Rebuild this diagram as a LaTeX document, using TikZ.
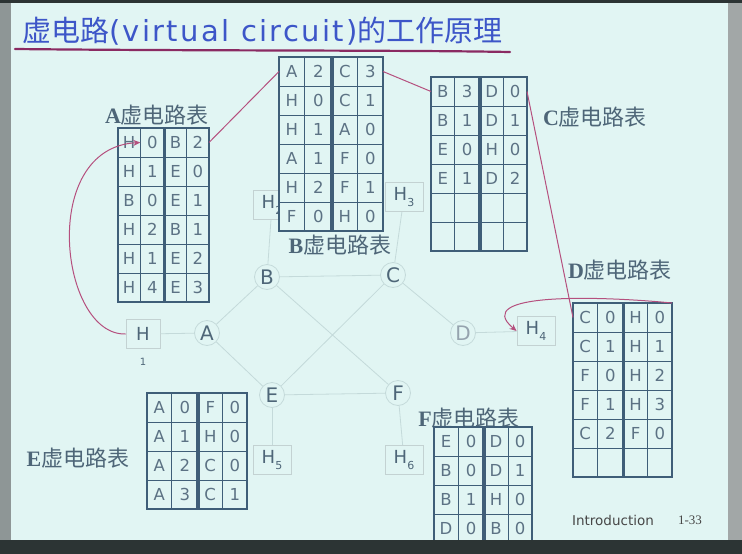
\documentclass[tikz,border=0pt]{standalone}
\usepackage{fontspec}
\setmainfont{DejaVu Sans}
\newfontfamily\cjk{Noto Sans CJK SC}
\newfontfamily\lserif{Liberation Serif}
\newfontfamily\titlelatin[LetterSpace=8]{DejaVu Sans}
\usetikzlibrary{arrows.meta}
\definecolor{bg}{HTML}{E1F5F3}
\definecolor{tabline}{HTML}{3F5E78}
\definecolor{celltext}{HTML}{5C7284}
\definecolor{titleblue}{HTML}{3D56C8}
\definecolor{vcred}{HTML}{B5507E}
\definecolor{linkc}{HTML}{C4DADA}
\definecolor{labelc}{HTML}{4E6678}
\definecolor{hostc}{HTML}{C3D2D2}
\definecolor{ulinec}{HTML}{8A2A62}
\definecolor{frameleft}{HTML}{8E9696}
\definecolor{frameright}{HTML}{A2A7A7}
\definecolor{framedark}{HTML}{2C3434}
\tikzset{
  tabbox/.style={draw=none,fill=bg,inner sep=0pt,outer sep=0pt},
  tabframe/.style={draw=tabline,line width=1.6pt},
  tabthin/.style={draw=tabline,line width=0.9pt},
  tabthick/.style={draw=tabline,line width=3.6pt},
  cell/.style={inner sep=0pt,outer sep=0pt,minimum height=29pt,text=celltext,font=\fontsize{16.5}{16.5}\selectfont},
  router/.style={circle,draw=linkc,line width=0.8pt,fill=bg,minimum size=25pt,inner sep=0pt,text=labelc,font=\fontsize{20}{20}\selectfont},
  host/.style={draw=hostc,line width=0.8pt,fill=bg,minimum width=38pt,minimum height=29pt,inner sep=0pt,text=labelc,font=\fontsize{18}{18}\selectfont},
  link/.style={draw=linkc,line width=0.8pt},
  tlabel/.style={text=labelc,inner sep=0pt,font=\fontsize{22}{22}\selectfont},
  vc/.style={draw=vcred,line width=1pt},
  vcarrow/.style={vc,-{Stealth[length=7pt,width=6pt]}},
}
\newcommand{\vctab}[6]{%
  \begin{scope}[shift={(#2,#3)}]
    \pgfmathsetmacro\W{#4}
    \pgfmathsetmacro\Hh{#5*29}
    \pgfmathsetmacro\cwa{.245*\W}
    \pgfmathsetmacro\cwb{.265*\W}
    \pgfmathtruncatemacro\Nm{#5-1}
    \node[tabbox,minimum width=\W pt,minimum height=\Hh pt] (#1) at ({\W/2},{\Hh/2}) {};
    \foreach \k in {1,...,\Nm} \draw[tabthin] (0,{\k*29}) -- (\W,{\k*29});
    \draw[tabthin] ({.245*\W},0) -- ({.245*\W},\Hh);
    \draw[tabthin] ({.755*\W},0) -- ({.755*\W},\Hh);
    \draw[tabthick] ({.51*\W},0) -- ({.51*\W},\Hh);
    \foreach \a/\b/\c/\d [count=\i] in {#6} {
      \node[cell,minimum width=\cwa pt] (#1-\i-1) at ({.1225*\W},{(\i-.5)*29}) {\a};
      \node[cell,minimum width=\cwb pt] (#1-\i-2) at ({.3775*\W},{(\i-.5)*29}) {\b};
      \node[cell,minimum width=\cwa pt] (#1-\i-3) at ({.6325*\W},{(\i-.5)*29}) {\c};
      \node[cell,minimum width=\cwa pt] (#1-\i-4) at ({.8775*\W},{(\i-.5)*29}) {\d};
    }
    \draw[tabframe] (0,0) rectangle (\W,\Hh);
  \end{scope}}
\begin{document}
\begin{tikzpicture}[x=1pt,y=-1pt]
\useasboundingbox (0,0) rectangle (742,554);
\fill[bg] (0,0) rectangle (742,554);
% title
\node[anchor=west,text=titleblue,inner sep=0pt,font=\fontsize{29}{29}\selectfont] (title) at (22,31) {{\cjk 虚电路}{\titlelatin (virtual circuit)}{\cjk 的工作原理}};
\draw[ulinec,line width=2.2pt,line cap=round] (15,49) .. controls (200,51) and (400,50) .. (510,52);
% routers and hosts
\node[router] (A) at (207,333) {A};
\node[router] (B) at (267,277) {B};
\node[router] (C) at (393,275) {C};
\node[router,text=labelc!60] (D) at (463,333) {D};
\node[router] (E) at (272,395) {E};
\node[router] (F) at (398,393) {F};
\node[host,minimum width=34pt] (h1) at (143,334) {H};
\node[text=labelc,font=\fontsize{10}{10}\selectfont] (h1s) at (143,362) {1};
\node[host] (h2) at (272,205) {H\raisebox{-0.3em}{\fontsize{11}{11}\selectfont 2}};
\node[host] (h3) at (404,197) {H\raisebox{-0.3em}{\fontsize{11}{11}\selectfont 3}};
\node[host] (h4) at (536,331) {H\raisebox{-0.3em}{\fontsize{11}{11}\selectfont 4}};
\node[host] (h5) at (272,460) {H\raisebox{-0.3em}{\fontsize{11}{11}\selectfont 5}};
\node[host] (h6) at (404,460) {H\raisebox{-0.3em}{\fontsize{11}{11}\selectfont 6}};
\draw[link] (h1) -- (A);
\draw[link] (A) -- (B);
\draw[link] (A) -- (E);
\draw[link] (B) -- (C);
\draw[link] (B) -- (F);
\draw[link] (C) -- (E);
\draw[link] (C) -- (D);
\draw[link] (E) -- (F);
\draw[link] (D) -- (h4);
\draw[link] (E) -- (h5);
\draw[link] (F) -- (h6);
\draw[link] (B) -- (h2);
\draw[link] (C) -- (h3);
% labels
\node[tlabel] (lA) at (157,115) {{\lserif\bfseries A}{\cjk 虚电路表}};
\node[tlabel] (lB) at (340,245) {{\lserif\bfseries B}{\cjk 虚电路表}};
\node[tlabel] (lC) at (595,117) {{\lserif\bfseries C}{\cjk 虚电路表}};
\node[tlabel] (lD) at (620,270) {{\lserif\bfseries D}{\cjk 虚电路表}};
\node[tlabel] (lE) at (78,458) {{\lserif\bfseries E}{\cjk 虚电路表}};
\node[tlabel] (lF) at (469,418) {{\lserif\bfseries F}{\cjk 虚电路表}};
% tables
\vctab{tA}{118}{128}{91}{6}{H/0/B/2, H/1/E/0, B/0/E/1, H/2/B/1, H/1/E/2, H/4/E/3}
\vctab{tB}{279}{57}{104}{6}{A/2/C/3, H/0/C/1, H/1/A/0, A/1/F/0, H/2/F/1, F/0/H/0}
\vctab{tC}{431}{77}{96}{6}{B/3/D/0, B/1/D/1, E/0/H/0, E/1/D/2}
\vctab{tD}{573}{303}{99}{6}{C/0/H/0, C/1/H/1, F/0/H/2, F/1/H/3, C/2/F/0}
\vctab{tE}{147}{393}{100}{4}{A/0/F/0, A/1/H/0, A/2/C/0, A/3/C/1}
\vctab{tF}{434}{427}{98}{4}{E/0/D/0, B/0/D/1, B/1/H/0, D/0/B/0}
% virtual circuit path
\draw[vcarrow] (h1.west) .. controls (60,336) and (38,148) .. (tA-1-1.east);
\draw[vc] (tA-1-4.east) -- (tB-1-1.west);
\draw[vc] (tB-1-4.east) -- (tC-1-1.west);
\draw[vc] (tC-1-4.east) -- (tD-1-1.west);
\draw[vcarrow] (tD.north east) .. controls (600,296) and (470,292) .. (h4.west);
% footer
\node[text=black!72,font=\fontsize{13.5}{13.5}\selectfont] (intro) at (613,520) {Introduction};
\node[text=black!72,font=\lserif\fontsize{13}{13}\selectfont] (pg) at (690,520) {1-33};
% photo frame
\fill[frameleft] (0,0) rectangle (11,554);
\fill[frameright] (728,0) rectangle (742,554);
\fill[framedark] (0,0) rectangle (742,3);
\fill[framedark] (0,540) rectangle (742,554);
\end{tikzpicture}
\end{document}
